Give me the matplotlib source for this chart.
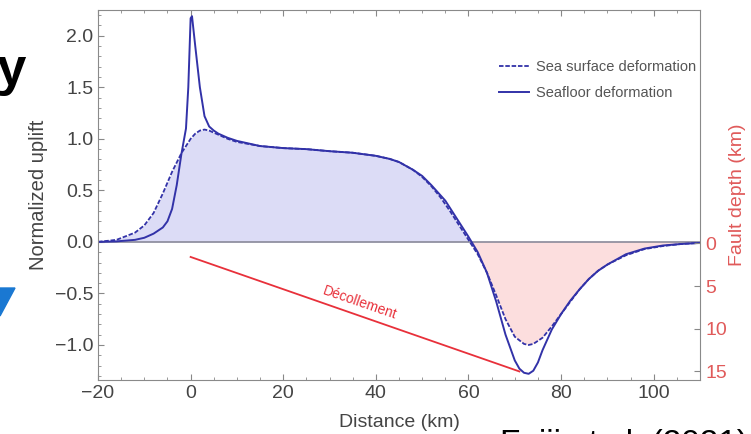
import matplotlib
matplotlib.use("Agg")
import matplotlib.pyplot as plt
from matplotlib.patches import Polygon
from matplotlib.ticker import MultipleLocator

plt.rcParams['font.family'] = ['Liberation Sans', 'DejaVu Sans']

# sea surface deformation (dashed)
sea_x = [-20, -16, -12, -10, -8, -6, -4, -2, 0, 1, 2, 3, 4, 6, 8, 10, 15, 20, 25,
         30, 35, 40, 43, 45, 48, 50, 52, 54, 56, 58, 60, 61, 62, 64, 66, 68, 70, 72, 73,
         74, 76, 78, 80, 82, 84, 86, 88, 90, 94, 98, 102, 106, 110]
sea_u = [0.0, 0.02, 0.09, 0.16, 0.28, 0.47, 0.68, 0.86, 1.0, 1.05, 1.08, 1.09, 1.08,
         1.04, 1.0, 0.97, 0.93, 0.91, 0.90, 0.88, 0.865, 0.835, 0.805, 0.775, 0.70,
         0.63, 0.54, 0.43, 0.30, 0.16, 0.02, -0.05, -0.12, -0.30, -0.52, -0.75, -0.92,
         -0.99, -1.0, -0.99, -0.93, -0.82, -0.70, -0.58, -0.46, -0.36, -0.28, -0.22,
         -0.13, -0.07, -0.04, -0.02, -0.01]

# seafloor deformation (solid)
floor_x = [-20, -16, -12, -10, -8, -6, -5, -4, -3, -2, -1, -0.5, 0, 0.3, 1, 2, 3, 4, 5,
           6, 8, 10, 15, 20, 25, 30, 35, 40, 43, 45, 48, 50, 52, 55, 58, 60, 62, 64, 66,
           68, 70, 71, 72, 73, 74, 75, 76, 78, 80, 82, 84, 86, 88, 90, 94, 98, 102, 106,
           110]
floor_u = [0.0, 0.005, 0.02, 0.04, 0.08, 0.14, 0.2, 0.32, 0.55, 0.85, 1.1, 1.5, 2.17,
           2.19, 1.9, 1.5, 1.22, 1.12, 1.08, 1.05, 1.01, 0.98, 0.93, 0.91, 0.90, 0.88,
           0.865, 0.835, 0.805, 0.775, 0.70, 0.64, 0.55, 0.40, 0.19, 0.05, -0.10, -0.30,
           -0.58, -0.90, -1.15, -1.23, -1.27, -1.28, -1.25, -1.17, -1.05, -0.85, -0.70,
           -0.57, -0.46, -0.36, -0.28, -0.22, -0.12, -0.065, -0.035, -0.02, -0.01]

# decollement (distance km, depth km)
dec_x = [0, 71]
dec_depth = [1.6, 15.0]

blue = '#3232a8'
red = '#e8303a'
grey = '#444444'

fig = plt.figure(figsize=(7.51, 4.34), dpi=100)
ax = fig.add_axes([98/751, 1-380/434, 602/751, 370/434])

ax.fill_between(sea_x, sea_u, 0, where=[v >= 0 for v in sea_u], interpolate=True,
                color='#dcdcf6', lw=0)
ax.fill_between(sea_x, sea_u, 0, where=[v <= 0 for v in sea_u], interpolate=True,
                color='#fcdede', lw=0)
ax.axhline(0, color='#8a8a9a', lw=1.2)
ax.plot(sea_x, sea_u, color=blue, lw=1.3, ls=(0, (2.5, 1)), label='Sea surface deformation')
ax.plot(floor_x, floor_u, color=blue, lw=1.4, label='Seafloor deformation')

ax.set_xlim(-20, 110)
ax.set_ylim(-1.34, 2.25)
ax.xaxis.set_minor_locator(MultipleLocator(5))
ax.yaxis.set_minor_locator(MultipleLocator(0.1))
ax.set_yticks([-1.0, -0.5, 0.0, 0.5, 1.0, 1.5, 2.0])
ax.set_yticklabels(['\u22121.0', '\u22120.5', '0.0', '0.5', '1.0', '1.5', '2.0'])
ax.set_xticks([-20, 0, 20, 40, 60, 80, 100])
ax.set_xticklabels(['\u221220', '0', '20', '40', '60', '80', '100'])
ax.tick_params(which='both', direction='in', colors='#888888', labelcolor=grey,
               labelsize=14, top=True)
ax.tick_params(which='major', length=4)
ax.tick_params(which='minor', length=2)
for s in ax.spines.values():
    s.set_color('#8a8a8a')
ax.set_xlabel('Distance (km)', fontsize=14, color=grey, labelpad=9)
ax.set_ylabel('Normalized uplift', fontsize=14.5, color=grey, labelpad=5)

ax.legend(loc='upper left', bbox_to_anchor=(0.645, 0.90), frameon=False,
          fontsize=10.5, labelcolor='#555555', handlelength=2.0, labelspacing=0.8,
          handletextpad=0.5)

# fault depth axis
ax2 = ax.twinx()
ax2.set_ylim(16.0, -27.3)
ax2.set_yticks([0, 5, 10, 15])
ax2.tick_params(direction='in', colors='#888888', labelcolor='#e05a5a', labelsize=14,
                length=4, pad=4)
ax2.plot(dec_x, dec_depth, color=red, lw=1.3)
ax2.text(36.6, 7.0, 'D\u00e9collement', color=red, fontsize=10, rotation=-19,
         ha='center', va='center', rotation_mode='anchor')
ax2.set_ylabel('Fault depth (km)', fontsize=14, color='#e05a5a', labelpad=1)
for s in ax2.spines.values():
    s.set_visible(False)

# slide fragments around the chart
fig.text(26/751, 1-85/434, 'y', fontsize=38, fontweight='bold', color='black',
         ha='right', va='baseline')
fig.patches.append(Polygon([[0, 1-288/434], [15/751, 1-288/434], [0, 1-316/434]],
                           closed=True, transform=fig.transFigure, color='#1a78d2'))
fig.text(500/751, -19/434, 'Fujii et al. (2021)', fontsize=24, color='black',
         ha='left', va='baseline')

fig.savefig('out.png', dpi=100)
